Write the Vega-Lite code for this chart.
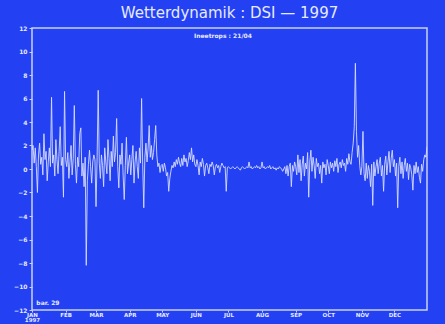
{
  "$schema": "https://vega.github.io/schema/vega-lite/v6.json",
  "autosize": {"type": "none"},
  "width": 395,
  "height": 282,
  "padding": {"left": 32, "top": 28, "right": 18, "bottom": 14},
  "background": "#2341F2",
  "config": {
    "view": {"stroke": "#C8D0FF", "strokeWidth": 1.5, "fill": "#2341F2"},
    "font": "DejaVu Sans",
    "axisY": {"labelOverlap": false, "labelBound": false},
    "axisX": {"labelOverlap": false}
  },
  "title": {
    "text": "Wetterdynamik : DSI \u2014 1997",
    "color": "#E6EAFF",
    "fontSize": 15,
    "fontWeight": "normal",
    "font": "DejaVu Sans",
    "offset": 4,
    "anchor": "middle",
    "frame": "group"
  },
  "encoding": {
    "x": {
      "field": "d", "type": "temporal",
      "scale": {"type": "utc", "domain": [{"year": 1997, "month": 1, "date": 1, "utc": true}, {"year": 1997, "month": 12, "date": 31, "utc": true}]},
      "axis": {
        "title": null,
        "grid": false,
        "domain": false,
        "tickCount": {"interval": "month", "step": 1},
        "labelExpr": "utcmonth(datum.value) == 0 ? ['JAN', '1997'] : upper(utcFormat(datum.value, '%b'))",
        "labelColor": "#E6EAFF",
        "labelFontSize": 5.5,
        "labelFontWeight": "bold",
        "labelPadding": 0,
        "labelLineHeight": 5,
        "labelFlush": false,
        "labelOverlap": false,
        "tickColor": "#C8D0FF",
        "tickSize": 2
      }
    },
    "y": {
      "field": "v", "type": "quantitative",
      "scale": {"domain": [-12, 12], "nice": false, "zero": false},
      "axis": {
        "title": null,
        "grid": false,
        "domain": false,
        "values": [-12, -10, -8, -6, -4, -2, 0, 2, 4, 6, 8, 10, 12],
        "tickCount": 13,
        "labelColor": "#E6EAFF",
        "labelFontSize": 6,
        "labelFontWeight": "bold",
        "labelPadding": 2,
        "labelFlush": false,
        "labelOverlap": false,
        "tickColor": "#C8D0FF",
        "tickSize": 3
      }
    }
  },
  "layer": [
    {
      "data": {"values": [
{"d":"1997-01-01","v":1.6},{"d":"1997-01-02","v":2.0},{"d":"1997-01-03","v":0.5},{"d":"1997-01-04","v":1.8},{"d":"1997-01-05","v":0.2},{"d":"1997-01-06","v":-2.0},{"d":"1997-01-07","v":1.2},{"d":"1997-01-08","v":2.2},{"d":"1997-01-09","v":0.4},{"d":"1997-01-10","v":1.0},{"d":"1997-01-11","v":-0.5},{"d":"1997-01-12","v":3.0},{"d":"1997-01-13","v":0.8},{"d":"1997-01-14","v":1.5},{"d":"1997-01-15","v":-1.0},{"d":"1997-01-16","v":0.6},{"d":"1997-01-17","v":1.8},{"d":"1997-01-18","v":0.2},{"d":"1997-01-19","v":6.1},{"d":"1997-01-20","v":0.5},{"d":"1997-01-21","v":1.2},{"d":"1997-01-22","v":-0.6},{"d":"1997-01-23","v":2.5},{"d":"1997-01-24","v":0.8},{"d":"1997-01-25","v":-0.4},{"d":"1997-01-26","v":1.5},{"d":"1997-01-27","v":3.6},{"d":"1997-01-28","v":0.3},{"d":"1997-01-29","v":1.0},{"d":"1997-01-30","v":-2.4},{"d":"1997-01-31","v":6.6},
{"d":"1997-02-01","v":0.8},{"d":"1997-02-02","v":0.2},{"d":"1997-02-03","v":1.4},{"d":"1997-02-04","v":-0.8},{"d":"1997-02-05","v":0.6},{"d":"1997-02-06","v":2.0},{"d":"1997-02-07","v":-0.5},{"d":"1997-02-08","v":0.9},{"d":"1997-02-09","v":5.4},{"d":"1997-02-10","v":0.4},{"d":"1997-02-11","v":-1.2},{"d":"1997-02-12","v":1.0},{"d":"1997-02-13","v":0.2},{"d":"1997-02-14","v":3.0},{"d":"1997-02-15","v":3.5},{"d":"1997-02-16","v":-0.6},{"d":"1997-02-17","v":0.5},{"d":"1997-02-18","v":-1.5},{"d":"1997-02-19","v":1.0},{"d":"1997-02-20","v":-8.2},{"d":"1997-02-21","v":-1.0},{"d":"1997-02-22","v":0.4},{"d":"1997-02-23","v":1.6},{"d":"1997-02-24","v":0.2},{"d":"1997-02-25","v":-1.2},{"d":"1997-02-26","v":0.6},{"d":"1997-02-27","v":1.2},{"d":"1997-02-28","v":0.8},
{"d":"1997-03-01","v":-3.2},{"d":"1997-03-02","v":1.0},{"d":"1997-03-03","v":6.7},{"d":"1997-03-04","v":0.5},{"d":"1997-03-05","v":-0.8},{"d":"1997-03-06","v":1.2},{"d":"1997-03-07","v":0.3},{"d":"1997-03-08","v":-1.5},{"d":"1997-03-09","v":1.8},{"d":"1997-03-10","v":0.6},{"d":"1997-03-11","v":-0.4},{"d":"1997-03-12","v":2.5},{"d":"1997-03-13","v":0.9},{"d":"1997-03-14","v":-1.0},{"d":"1997-03-15","v":1.5},{"d":"1997-03-16","v":0.2},{"d":"1997-03-17","v":2.8},{"d":"1997-03-18","v":0.6},{"d":"1997-03-19","v":1.4},{"d":"1997-03-20","v":4.3},{"d":"1997-03-21","v":0.2},{"d":"1997-03-22","v":-1.6},{"d":"1997-03-23","v":1.2},{"d":"1997-03-24","v":0.4},{"d":"1997-03-25","v":2.2},{"d":"1997-03-26","v":-0.6},{"d":"1997-03-27","v":-2.6},{"d":"1997-03-28","v":0.3},{"d":"1997-03-29","v":2.7},{"d":"1997-03-30","v":-0.4},{"d":"1997-03-31","v":0.5},
{"d":"1997-04-01","v":1.2},{"d":"1997-04-02","v":-0.5},{"d":"1997-04-03","v":0.8},{"d":"1997-04-04","v":2.0},{"d":"1997-04-05","v":-1.2},{"d":"1997-04-06","v":0.6},{"d":"1997-04-07","v":1.5},{"d":"1997-04-08","v":0.2},{"d":"1997-04-09","v":-0.8},{"d":"1997-04-10","v":1.8},{"d":"1997-04-11","v":0.5},{"d":"1997-04-12","v":6.0},{"d":"1997-04-13","v":0.4},{"d":"1997-04-14","v":-3.3},{"d":"1997-04-15","v":1.0},{"d":"1997-04-16","v":2.2},{"d":"1997-04-17","v":0.6},{"d":"1997-04-18","v":1.8},{"d":"1997-04-19","v":3.7},{"d":"1997-04-20","v":1.0},{"d":"1997-04-21","v":2.0},{"d":"1997-04-22","v":0.8},{"d":"1997-04-23","v":1.4},{"d":"1997-04-24","v":2.5},{"d":"1997-04-25","v":3.7},{"d":"1997-04-26","v":1.2},{"d":"1997-04-27","v":0.2},{"d":"1997-04-28","v":0.5},{"d":"1997-04-29","v":-0.3},{"d":"1997-04-30","v":0.3},
{"d":"1997-05-01","v":0.4},{"d":"1997-05-02","v":-0.2},{"d":"1997-05-03","v":0.5},{"d":"1997-05-04","v":0.1},{"d":"1997-05-05","v":-0.6},{"d":"1997-05-06","v":-0.3},{"d":"1997-05-07","v":-1.9},{"d":"1997-05-08","v":-0.8},{"d":"1997-05-09","v":-0.2},{"d":"1997-05-10","v":0.3},{"d":"1997-05-11","v":0.1},{"d":"1997-05-12","v":0.6},{"d":"1997-05-13","v":0.2},{"d":"1997-05-14","v":0.8},{"d":"1997-05-15","v":0.4},{"d":"1997-05-16","v":1.0},{"d":"1997-05-17","v":0.5},{"d":"1997-05-18","v":0.2},{"d":"1997-05-19","v":0.9},{"d":"1997-05-20","v":0.3},{"d":"1997-05-21","v":1.2},{"d":"1997-05-22","v":0.6},{"d":"1997-05-23","v":0.9},{"d":"1997-05-24","v":0.2},{"d":"1997-05-25","v":0.7},{"d":"1997-05-26","v":1.4},{"d":"1997-05-27","v":0.8},{"d":"1997-05-28","v":1.8},{"d":"1997-05-29","v":0.6},{"d":"1997-05-30","v":1.2},{"d":"1997-05-31","v":0.4},
{"d":"1997-06-01","v":0.2},{"d":"1997-06-02","v":0.8},{"d":"1997-06-03","v":0.3},{"d":"1997-06-04","v":-0.5},{"d":"1997-06-05","v":0.6},{"d":"1997-06-06","v":0.2},{"d":"1997-06-07","v":0.9},{"d":"1997-06-08","v":0.4},{"d":"1997-06-09","v":-0.6},{"d":"1997-06-10","v":0.3},{"d":"1997-06-11","v":0.5},{"d":"1997-06-12","v":0.1},{"d":"1997-06-13","v":-0.4},{"d":"1997-06-14","v":0.4},{"d":"1997-06-15","v":0.2},{"d":"1997-06-16","v":0.6},{"d":"1997-06-17","v":0.3},{"d":"1997-06-18","v":-0.5},{"d":"1997-06-19","v":0.2},{"d":"1997-06-20","v":0.4},{"d":"1997-06-21","v":0.1},{"d":"1997-06-22","v":0.3},{"d":"1997-06-23","v":-0.3},{"d":"1997-06-24","v":0.2},{"d":"1997-06-25","v":0.5},{"d":"1997-06-26","v":0.3},{"d":"1997-06-27","v":0.1},{"d":"1997-06-28","v":0.2},{"d":"1997-06-29","v":-1.9},{"d":"1997-06-30","v":0.1},
{"d":"1997-07-01","v":0.2},{"d":"1997-07-02","v":0.1},{"d":"1997-07-03","v":0.0},{"d":"1997-07-04","v":0.1},{"d":"1997-07-05","v":0.2},{"d":"1997-07-06","v":0.1},{"d":"1997-07-07","v":0.0},{"d":"1997-07-08","v":0.1},{"d":"1997-07-09","v":0.2},{"d":"1997-07-10","v":0.1},{"d":"1997-07-11","v":0.0},{"d":"1997-07-12","v":-0.1},{"d":"1997-07-13","v":0.1},{"d":"1997-07-14","v":0.2},{"d":"1997-07-15","v":0.1},{"d":"1997-07-16","v":0.0},{"d":"1997-07-17","v":0.1},{"d":"1997-07-18","v":0.2},{"d":"1997-07-19","v":0.1},{"d":"1997-07-20","v":0.6},{"d":"1997-07-21","v":0.1},{"d":"1997-07-22","v":0.2},{"d":"1997-07-23","v":0.0},{"d":"1997-07-24","v":0.1},{"d":"1997-07-25","v":0.2},{"d":"1997-07-26","v":0.1},{"d":"1997-07-27","v":0.3},{"d":"1997-07-28","v":0.1},{"d":"1997-07-29","v":0.2},{"d":"1997-07-30","v":0.0},{"d":"1997-07-31","v":0.1},
{"d":"1997-08-01","v":0.6},{"d":"1997-08-02","v":0.1},{"d":"1997-08-03","v":0.2},{"d":"1997-08-04","v":0.0},{"d":"1997-08-05","v":0.1},{"d":"1997-08-06","v":0.2},{"d":"1997-08-07","v":0.1},{"d":"1997-08-08","v":0.3},{"d":"1997-08-09","v":0.0},{"d":"1997-08-10","v":0.1},{"d":"1997-08-11","v":0.2},{"d":"1997-08-12","v":0.0},{"d":"1997-08-13","v":0.1},{"d":"1997-08-14","v":-0.1},{"d":"1997-08-15","v":0.1},{"d":"1997-08-16","v":0.0},{"d":"1997-08-17","v":0.2},{"d":"1997-08-18","v":0.1},{"d":"1997-08-19","v":0.0},{"d":"1997-08-20","v":-0.2},{"d":"1997-08-21","v":0.0},{"d":"1997-08-22","v":0.2},{"d":"1997-08-23","v":-0.4},{"d":"1997-08-24","v":0.3},{"d":"1997-08-25","v":-0.6},{"d":"1997-08-26","v":0.2},{"d":"1997-08-27","v":0.5},{"d":"1997-08-28","v":-1.5},{"d":"1997-08-29","v":0.3},{"d":"1997-08-30","v":-0.2},{"d":"1997-08-31","v":0.6},
{"d":"1997-09-01","v":0.2},{"d":"1997-09-02","v":-0.5},{"d":"1997-09-03","v":1.2},{"d":"1997-09-04","v":-0.3},{"d":"1997-09-05","v":0.8},{"d":"1997-09-06","v":-1.0},{"d":"1997-09-07","v":0.4},{"d":"1997-09-08","v":1.1},{"d":"1997-09-09","v":-0.6},{"d":"1997-09-10","v":0.5},{"d":"1997-09-11","v":0.0},{"d":"1997-09-12","v":1.4},{"d":"1997-09-13","v":-2.4},{"d":"1997-09-14","v":0.6},{"d":"1997-09-15","v":1.6},{"d":"1997-09-16","v":-0.2},{"d":"1997-09-17","v":1.0},{"d":"1997-09-18","v":0.3},{"d":"1997-09-19","v":-0.8},{"d":"1997-09-20","v":0.9},{"d":"1997-09-21","v":0.2},{"d":"1997-09-22","v":0.5},{"d":"1997-09-23","v":-0.4},{"d":"1997-09-24","v":0.3},{"d":"1997-09-25","v":-1.2},{"d":"1997-09-26","v":0.6},{"d":"1997-09-27","v":0.1},{"d":"1997-09-28","v":0.4},{"d":"1997-09-29","v":-0.5},{"d":"1997-09-30","v":0.8},
{"d":"1997-10-01","v":0.3},{"d":"1997-10-02","v":-0.4},{"d":"1997-10-03","v":0.6},{"d":"1997-10-04","v":0.1},{"d":"1997-10-05","v":0.5},{"d":"1997-10-06","v":-0.2},{"d":"1997-10-07","v":0.7},{"d":"1997-10-08","v":0.2},{"d":"1997-10-09","v":0.9},{"d":"1997-10-10","v":-0.3},{"d":"1997-10-11","v":0.4},{"d":"1997-10-12","v":0.6},{"d":"1997-10-13","v":0.1},{"d":"1997-10-14","v":0.8},{"d":"1997-10-15","v":0.3},{"d":"1997-10-16","v":0.5},{"d":"1997-10-17","v":-0.2},{"d":"1997-10-18","v":0.9},{"d":"1997-10-19","v":0.4},{"d":"1997-10-20","v":1.3},{"d":"1997-10-21","v":0.6},{"d":"1997-10-22","v":0.4},{"d":"1997-10-23","v":1.4},{"d":"1997-10-24","v":2.2},{"d":"1997-10-25","v":3.6},{"d":"1997-10-26","v":9.0},{"d":"1997-10-27","v":3.2},{"d":"1997-10-28","v":1.0},{"d":"1997-10-29","v":2.0},{"d":"1997-10-30","v":0.3},{"d":"1997-10-31","v":-0.5},
{"d":"1997-11-01","v":0.2},{"d":"1997-11-02","v":3.2},{"d":"1997-11-03","v":-0.4},{"d":"1997-11-04","v":-1.0},{"d":"1997-11-05","v":0.5},{"d":"1997-11-06","v":-0.8},{"d":"1997-11-07","v":0.3},{"d":"1997-11-08","v":-0.2},{"d":"1997-11-09","v":-1.5},{"d":"1997-11-10","v":0.4},{"d":"1997-11-11","v":-3.1},{"d":"1997-11-12","v":0.6},{"d":"1997-11-13","v":-0.6},{"d":"1997-11-14","v":0.2},{"d":"1997-11-15","v":0.8},{"d":"1997-11-16","v":-0.4},{"d":"1997-11-17","v":0.5},{"d":"1997-11-18","v":1.0},{"d":"1997-11-19","v":-0.6},{"d":"1997-11-20","v":0.3},{"d":"1997-11-21","v":-1.9},{"d":"1997-11-22","v":0.4},{"d":"1997-11-23","v":1.1},{"d":"1997-11-24","v":-0.5},{"d":"1997-11-25","v":0.6},{"d":"1997-11-26","v":1.5},{"d":"1997-11-27","v":-0.3},{"d":"1997-11-28","v":0.9},{"d":"1997-11-29","v":1.6},{"d":"1997-11-30","v":0.2},
{"d":"1997-12-01","v":0.8},{"d":"1997-12-02","v":-0.6},{"d":"1997-12-03","v":0.5},{"d":"1997-12-04","v":-3.3},{"d":"1997-12-05","v":0.2},{"d":"1997-12-06","v":1.0},{"d":"1997-12-07","v":-0.4},{"d":"1997-12-08","v":0.6},{"d":"1997-12-09","v":-0.8},{"d":"1997-12-10","v":0.3},{"d":"1997-12-11","v":0.9},{"d":"1997-12-12","v":-0.2},{"d":"1997-12-13","v":0.5},{"d":"1997-12-14","v":-0.9},{"d":"1997-12-15","v":0.4},{"d":"1997-12-16","v":0.1},{"d":"1997-12-17","v":-0.5},{"d":"1997-12-18","v":-1.8},{"d":"1997-12-19","v":0.3},{"d":"1997-12-20","v":-0.4},{"d":"1997-12-21","v":0.6},{"d":"1997-12-22","v":-0.3},{"d":"1997-12-23","v":0.2},{"d":"1997-12-24","v":-0.7},{"d":"1997-12-25","v":-1.2},{"d":"1997-12-26","v":0.4},{"d":"1997-12-27","v":-0.2},{"d":"1997-12-28","v":0.8},{"d":"1997-12-29","v":1.2},{"d":"1997-12-30","v":1.0},{"d":"1997-12-31","v":1.9}
      ]},
      "mark": {"type": "line", "color": "#D6DCFF", "strokeWidth": 1, "opacity": 0.9, "clip": true}
    },
    {
      "data": {"values": [{"d": "1997-06-26", "v": 11.3, "t": "Ineetrops : 21/04"}]},
      "mark": {"type": "text", "color": "#E6EAFF", "fontSize": 6, "fontWeight": "bold", "align": "center"},
      "encoding": {"text": {"field": "t"}}
    },
    {
      "data": {"values": [{"d": "1997-01-05", "v": -11.4, "t": "bar. 29"}]},
      "mark": {"type": "text", "color": "#E6EAFF", "fontSize": 6, "fontWeight": "bold", "align": "left"},
      "encoding": {"text": {"field": "t"}}
    }
  ]
}
